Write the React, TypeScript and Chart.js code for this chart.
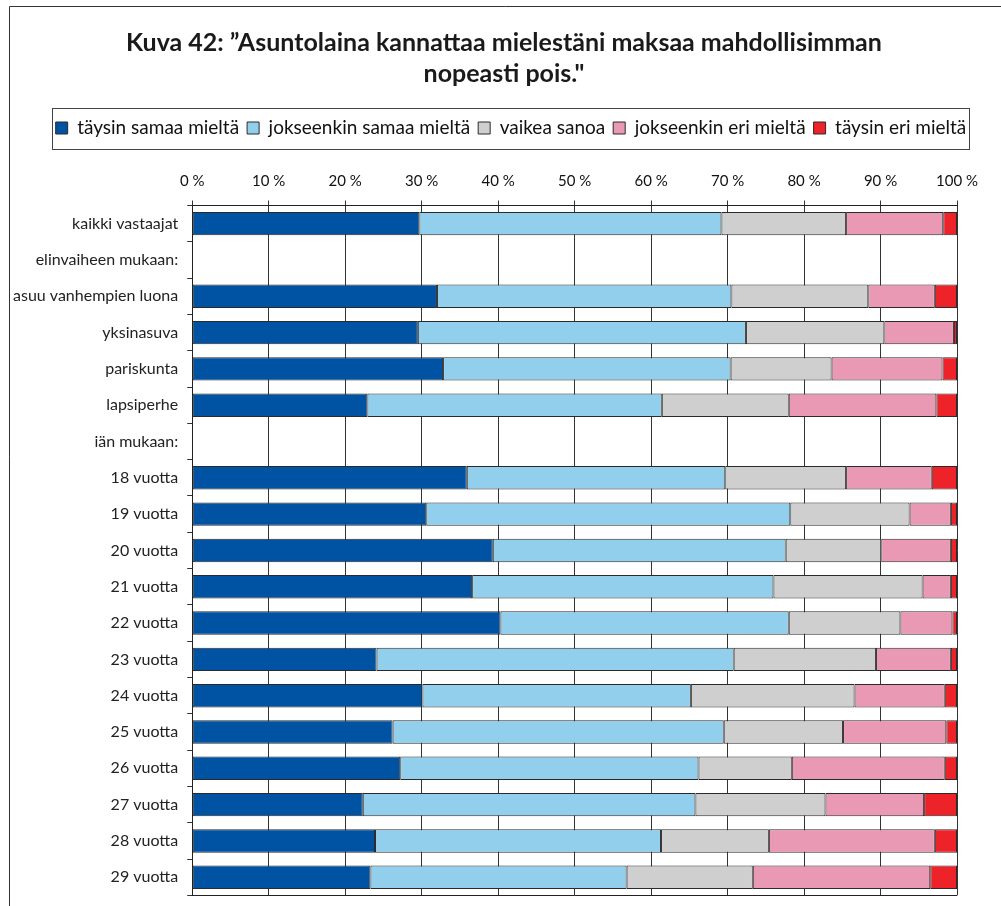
import React, { useEffect, useRef } from "react";
import { Chart, registerables } from "chart.js";

Chart.register(...registerables);

const titleLines = ["Kuva 42: ”Asuntolaina kannattaa mielestäni maksaa mahdollisimman", "nopeasti pois.\""];

const categories = [
  "kaikki vastaajat",
  "elinvaiheen mukaan:",
  "asuu vanhempien luona",
  "yksinasuva",
  "pariskunta",
  "lapsiperhe",
  "iän mukaan:",
  "18 vuotta",
  "19 vuotta",
  "20 vuotta",
  "21 vuotta",
  "22 vuotta",
  "23 vuotta",
  "24 vuotta",
  "25 vuotta",
  "26 vuotta",
  "27 vuotta",
  "28 vuotta",
  "29 vuotta",
];

const seriesNames = [
  "täysin samaa mieltä",
  "jokseenkin samaa mieltä",
  "vaikea sanoa",
  "jokseenkin eri mieltä",
  "täysin eri mieltä",
];

const taysinSamaa = [29.7, null, 32.0, 29.5, 32.8, 22.9, null, 35.9, 30.6, 39.3, 36.6, 40.3, 24.1, 30.1, 26.2, 27.2, 22.3, 23.9, 23.3];
const jokseenkinSamaa = [39.5, null, 38.5, 42.9, 37.6, 38.5, null, 33.8, 47.6, 38.3, 39.4, 37.7, 46.7, 35.1, 43.3, 39.0, 43.5, 37.4, 33.5];
const vaikeaSanoa = [16.3, null, 17.9, 18.1, 13.2, 16.6, null, 15.8, 15.6, 12.5, 19.5, 14.6, 18.6, 21.4, 15.6, 12.2, 17.0, 14.1, 16.5];
const jokseenkinEri = [12.7, null, 8.7, 9.1, 14.5, 19.3, null, 11.2, 5.4, 9.1, 3.7, 6.8, 9.8, 11.8, 13.5, 20.0, 12.9, 21.7, 23.2];
const taysinEri = [1.8, null, 2.9, 0.4, 1.9, 2.7, null, 3.3, 0.8, 0.8, 0.8, 0.6, 0.8, 1.6, 1.4, 1.6, 4.3, 2.9, 3.5];

const seriesValues = [taysinSamaa, jokseenkinSamaa, vaikeaSanoa, jokseenkinEri, taysinEri];
const seriesColors = ["#0052A3", "#92CFEC", "#CFCFCF", "#EA99B5", "#EE232A"];

const xTickValues = [0, 10, 20, 30, 40, 50, 60, 70, 80, 90, 100];

const FONT = "Lato, 'Noto Sans', sans-serif";

const decorPlugin = {
  id: "decor",
  afterLayout(chart: any) {
    // centre title and legend like the original figure
    const t = chart.titleBlock;
    if (t) {
      const dx = 504 - (t.left + t.right) / 2;
      t.left += dx;
      t.right += dx;
    }
    const lg = chart.legend;
    if (lg) {
      const dx = 511 - (lg.left + lg.right) / 2;
      lg.left += dx;
      lg.right += dx;
    }
  },
  afterDraw(chart: any) {
    const ctx = chart.ctx;
    ctx.save();
    ctx.strokeStyle = "#333";
    ctx.lineWidth = 1;
    // outer frame
    ctx.beginPath();
    ctx.moveTo(9.5, chart.height);
    ctx.lineTo(9.5, 6.5);
    ctx.lineTo(chart.width, 6.5);
    ctx.stroke();
    // legend box
    const boxes = chart.legend && chart.legend.legendHitBoxes;
    if (boxes && boxes.length) {
      let l = Infinity, r = -Infinity, t = Infinity, b = -Infinity;
      for (const hb of boxes) {
        l = Math.min(l, hb.left);
        r = Math.max(r, hb.left + hb.width);
        t = Math.min(t, hb.top);
        b = Math.max(b, hb.top + hb.height);
      }
      ctx.strokeStyle = "#444";
      ctx.strokeRect(Math.round(l - 4) + 0.5, Math.round(t - 11) + 0.5, Math.round(r - l + 6), Math.round(b - t + 22));
    }
    // plot area bottom line
    const a = chart.chartArea;
    ctx.strokeStyle = "#222";
    ctx.beginPath();
    ctx.moveTo(a.left, Math.round(a.bottom) + 0.5);
    ctx.lineTo(a.right, Math.round(a.bottom) + 0.5);
    ctx.stroke();
    ctx.restore();
  },
};

export default function App() {
  const ref = useRef<HTMLCanvasElement>(null);
  useEffect(() => {
    document.body.style.margin = "0";
    const canvas = ref.current;
    if (!canvas) return;
    const chart = new Chart(canvas, {
      type: "bar",
      data: {
        labels: categories,
        datasets: seriesNames.map((name, i) => ({
          label: name,
          data: seriesValues[i],
          backgroundColor: seriesColors[i],
          borderColor: "#2a2a2a",
          borderWidth: 1,
          borderSkipped: false,
          categoryPercentage: 1,
          barPercentage: 0.645,
        })),
      },
      options: {
        indexAxis: "y",
        responsive: false,
        animation: false,
        devicePixelRatio: 1,
        layout: { padding: { top: 22, left: 4, right: 44, bottom: -9 } },
        plugins: {
          title: {
            display: true,
            text: titleLines,
            color: "#1a1a1a",
            font: { family: FONT, size: 25, weight: "bold", lineHeight: 1.25 },
            padding: { top: 5, bottom: 21 },
          },
          legend: {
            display: true,
            position: "top",
            labels: {
              color: "#111",
              font: { family: FONT, size: 19 },
              boxWidth: 12,
              boxHeight: 12,
              padding: 8,
            },
          },
          tooltip: { enabled: false },
        },
        scales: {
          x: {
            type: "linear",
            position: "top",
            stacked: true,
            min: 0,
            max: 100,
            afterBuildTicks: (scale: any) => {
              scale.ticks = xTickValues.map((v) => ({ value: v }));
            },
            afterFit: (scale: any) => {
              scale.height += 15;
            },
            ticks: {
              color: "#111",
              font: { family: FONT, size: 15 },
              padding: 10,
              callback: (v: any) => `${v} %`,
            },
            grid: { color: "#333", lineWidth: 1, tickLength: 5, drawTicks: true },
            border: { color: "#222", width: 1 },
          },
          y: {
            type: "category",
            stacked: true,
            offset: true,
            ticks: {
              color: "#222",
              font: { family: FONT, size: 16, lineHeight: 0.2 },
              padding: 9,
            },
            grid: { offset: true, drawOnChartArea: false, drawTicks: true, tickLength: 5, color: "#333" },
            border: { color: "#222", width: 1 },
          },
        },
      },
      plugins: [decorPlugin],
    } as any);
    return () => chart.destroy();
  }, []);
  return <canvas ref={ref} width={1001} height={906} style={{ display: "block" }} />;
}
